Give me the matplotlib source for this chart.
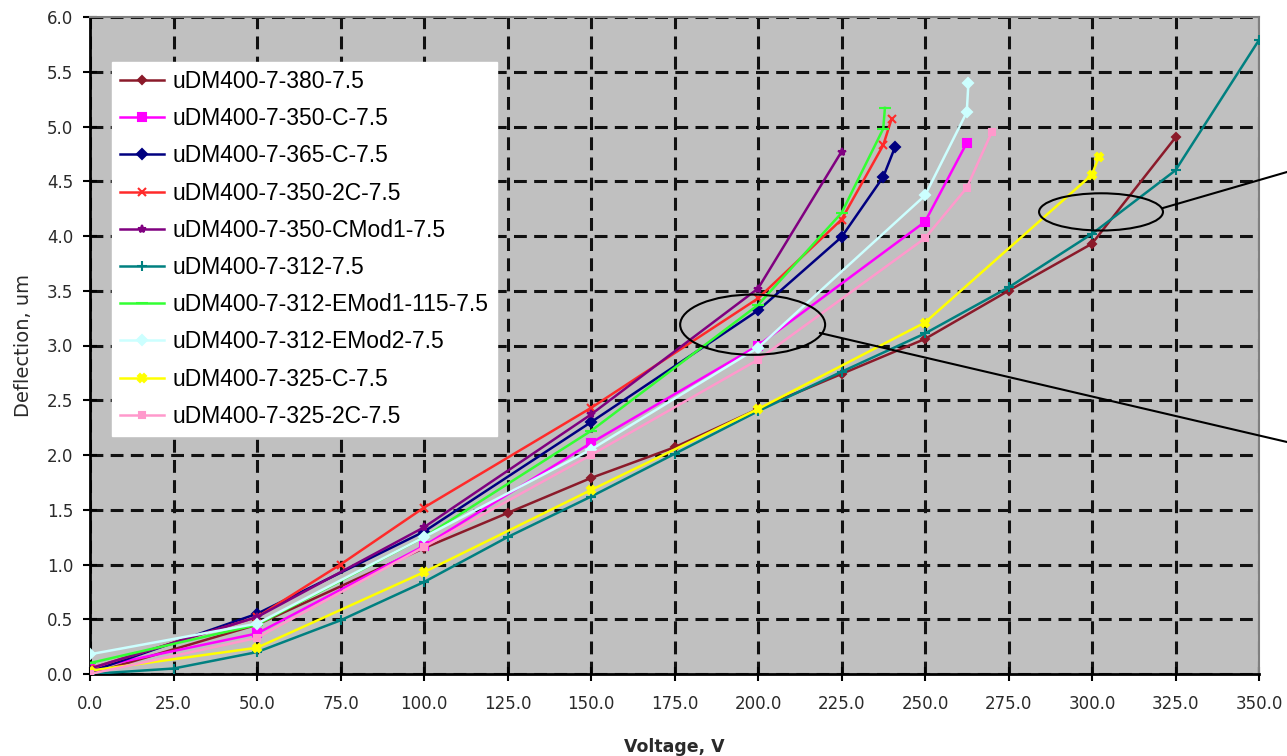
import matplotlib
matplotlib.use("Agg")
import matplotlib.pyplot as plt
from matplotlib.patches import Ellipse
from matplotlib.lines import Line2D

W, H = 1287, 756

names = ["uDM400-7-380-7.5", "uDM400-7-350-C-7.5", "uDM400-7-365-C-7.5",
         "uDM400-7-350-2C-7.5", "uDM400-7-350-CMod1-7.5", "uDM400-7-312-7.5",
         "uDM400-7-312-EMod1-115-7.5", "uDM400-7-312-EMod2-7.5",
         "uDM400-7-325-C-7.5", "uDM400-7-325-2C-7.5"]

x_380 = [0, 50, 100, 125, 150, 175, 200, 225, 250, 275, 300, 325]
y_380 = [0.0, 0.45, 1.15, 1.47, 1.79, 2.07, 2.42, 2.74, 3.06, 3.50, 3.93, 4.90]

x_350c = [0, 50, 100, 150, 200, 250, 262.5]
y_350c = [0.05, 0.37, 1.17, 2.11, 3.00, 4.13, 4.85]

x_365c = [0, 50, 100, 150, 200, 225, 237.5, 241]
y_365c = [0.02, 0.55, 1.30, 2.30, 3.32, 3.99, 4.54, 4.81]

x_3502c = [0, 50, 75, 100, 150, 200, 225, 237.5, 240]
y_3502c = [0.05, 0.52, 1.00, 1.52, 2.43, 3.43, 4.15, 4.83, 5.07]

x_cmod1 = [0, 50, 100, 150, 200, 225]
y_cmod1 = [0.05, 0.52, 1.34, 2.37, 3.52, 4.77]

x_312 = [0, 25, 50, 75, 100, 125, 150, 175, 200, 225, 250, 275, 300, 325, 350]
y_312 = [0.0, 0.05, 0.20, 0.49, 0.84, 1.25, 1.62, 2.01, 2.40, 2.76, 3.11, 3.53, 4.02, 4.60, 5.79]

x_emod1 = [0, 50, 100, 150, 200, 225, 237.5, 238]
y_emod1 = [0.10, 0.45, 1.25, 2.22, 3.37, 4.21, 4.98, 5.17]

x_emod2 = [0, 50, 100, 150, 200, 250, 262.5, 263]
y_emod2 = [0.18, 0.46, 1.25, 2.05, 2.98, 4.37, 5.13, 5.40]

x_325c = [0, 50, 100, 150, 200, 250, 300, 302]
y_325c = [0.03, 0.24, 0.93, 1.68, 2.42, 3.21, 4.56, 4.72]

x_3252c = [0, 50, 100, 150, 200, 250, 262.5, 270]
y_3252c = [0.0, 0.33, 1.16, 2.00, 2.87, 3.98, 4.44, 4.95]

xs = [x_380, x_350c, x_365c, x_3502c, x_cmod1, x_312, x_emod1, x_emod2, x_325c, x_3252c]
ys = [y_380, y_350c, y_365c, y_3502c, y_cmod1, y_312, y_emod1, y_emod2, y_325c, y_3252c]
colors = ["#8B1A2A", "#FF00FF", "#000080", "#FF2A2A", "#800080", "#008080",
          "#33FF33", "#CCFFFF", "#FFFF00", "#FF99CC"]
markers = ["D", "s", "D", "x", "*", "+", "_", "D", "X", "s"]
msizes = [4, 6, 5, 6, 6, 7, 8, 5, 6, 5]

xticks = [0, 25, 50, 75, 100, 125, 150, 175, 200, 225, 250, 275, 300, 325, 350]
yticks = [0.0, 0.5, 1.0, 1.5, 2.0, 2.5, 3.0, 3.5, 4.0, 4.5, 5.0, 5.5, 6.0]

fig = plt.figure(figsize=(W / 100, H / 100), dpi=100)
ax = fig.add_axes([90 / W, 1 - 674 / H, (1259 - 90) / W, (674 - 17) / H])
ax.set_facecolor("#C0C0C0")

for xv, yv, c, m, ms, n in zip(xs, ys, colors, markers, msizes, names):
    ax.plot(xv, yv, color=c, marker=m, markersize=ms, linewidth=1.8,
            markeredgewidth=1.5, label=n, zorder=3)

ax.set_xlim(0, 350)
ax.set_ylim(0, 6)
ax.set_xticks(xticks)
ax.set_yticks(yticks)
ax.set_xticklabels([f"{v:.1f}" for v in xticks])
ax.set_yticklabels([f"{v:.1f}" for v in yticks])
ax.grid(True, color="#111111", linewidth=2.2, linestyle=(0, (4.2, 2.4)), zorder=1)
ax.set_axisbelow(True)

for s in ["top", "right"]:
    ax.spines[s].set_color("#808080")
    ax.spines[s].set_linewidth(1.5)
for s in ["left", "bottom"]:
    ax.spines[s].set_color("black")
    ax.spines[s].set_linewidth(2.0)

ax.tick_params(axis="both", direction="inout", length=10, width=1.5,
               labelsize=12, labelcolor="#2a2a2a")
ax.tick_params(axis="x", pad=10)
ax.tick_params(axis="y", pad=7)

ax.set_xlabel("Voltage, V", fontsize=12.5, fontweight="bold", color="#2a2a2a", labelpad=18)
ax.set_ylabel("Deflection, um", fontsize=14, color="#2a2a2a", labelpad=10)

leg = ax.legend(loc="upper left", bbox_to_anchor=(112 / W, 1 - 62 / H),
                bbox_transform=fig.transFigure,
                prop={"family": "Liberation Sans", "size": 16.5},
                frameon=True, fancybox=False, framealpha=1.0,
                handlelength=1.9, handletextpad=0.4, labelspacing=0.62,
                borderpad=0.35, borderaxespad=0)
leg.get_frame().set_facecolor("white")
leg.get_frame().set_edgecolor("white")
leg.set_zorder(5)

# annotations: ellipses and pointer lines
e1 = Ellipse((302.7, 4.22), 37.1, 0.34, fill=False, edgecolor="black",
             linewidth=1.5, zorder=6, clip_on=False)
e2 = Ellipse((198.4, 3.19), 43.4, 0.55, fill=False, edgecolor="black",
             linewidth=1.5, zorder=6, clip_on=False)
ax.add_patch(e1)
ax.add_patch(e2)

def px(x, y):
    return x / W, 1 - y / H

for (x0, y0), (x1, y1) in [((1163, 208), (1287, 172)), ((820, 333), (1287, 442))]:
    a, b = px(x0, y0)
    c, d = px(x1, y1)
    fig.add_artist(Line2D([a, c], [b, d], transform=fig.transFigure,
                          color="black", linewidth=1.5, zorder=10))

fig.savefig("out.png", dpi=100, facecolor="white")
